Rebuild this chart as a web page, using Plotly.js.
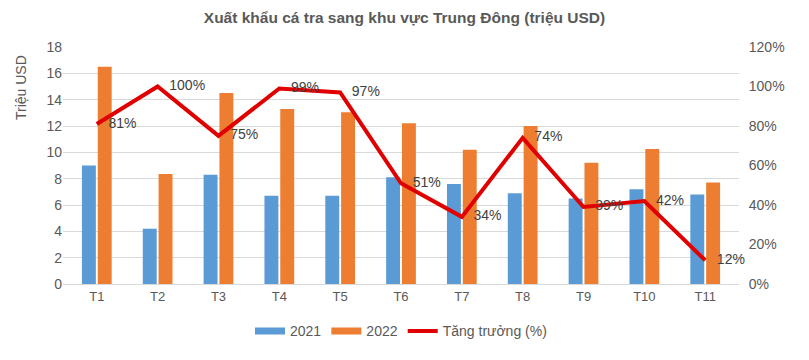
<!DOCTYPE html>
<html><head><meta charset="utf-8">
<script src="https://cdn.plot.ly/plotly-3.0.1.min.js"></script>
<style>html,body{margin:0;padding:0;background:#fff;}#c{width:809px;height:360px;}</style>
</head><body><div id="c"></div>
<script>
const categories = ["T1","T2","T3","T4","T5","T6","T7","T8","T9","T10","T11"];
const v2021 = [9.0, 4.2, 8.3, 6.7, 6.7, 8.1, 7.6, 6.9, 6.5, 7.2, 6.8];
const v2022 = [16.5, 8.35, 14.5, 13.3, 13.05, 12.2, 10.2, 12.0, 9.2, 10.25, 7.7];
const growth = [0.81, 1.00, 0.75, 0.99, 0.97, 0.51, 0.34, 0.74, 0.39, 0.42, 0.12];
const growthLabels = growth.map(g => "\u00a0\u00a0\u00a0" + Math.round(g*100) + "%");

const txt = "#595959";
const font = {family: "Liberation Sans, Arial, sans-serif", size: 13, color: txt};
const blue = "#5b9bd5", orange = "#ed7d31", red = "#e00000";

const data = [
  {type: "bar", name: "2021", x: categories, y: v2021, marker: {color: blue}, showlegend: false},
  {type: "bar", name: "2022", x: categories, y: v2022, marker: {color: orange}, showlegend: false},
  {type: "scatter", mode: "lines+text", name: "Tăng trưởng (%)", x: categories, y: growth, yaxis: "y2",
   line: {color: red, width: 4}, text: growthLabels, textposition: "middle right",
   textfont: {family: font.family, size: 14, color: "#404040"}, cliponaxis: false, showlegend: false},
  // legend entries
  {type: "scatter", mode: "lines", name: "2021", x: [null], y: [null], line: {color: blue, width: 7}},
  {type: "scatter", mode: "lines", name: "2022", x: [null], y: [null], line: {color: orange, width: 7}},
  {type: "scatter", mode: "lines", name: "Tăng trưởng (%)", x: [null], y: [null], line: {color: red, width: 4}}
];

const layout = {
  width: 809, height: 360,
  margin: {l: 63, r: 70, t: 47, b: 76},
  paper_bgcolor: "#fff", plot_bgcolor: "#fff",
  font: font,
  title: {text: "<b>Xuất khẩu cá tra sang khu vực Trung Đông (triệu USD)</b>", x: 0.5, xanchor: "center", y: 0.95, yanchor: "middle",
          font: {family: font.family, size: 15.5, color: txt}},
  barmode: "group", bargap: 0.48, bargroupgap: 0.12,
  showlegend: true,
  legend: {orientation: "h", x: 0.5, xanchor: "center", y: -0.2, yanchor: "middle", itemwidth: 30,
           font: {family: font.family, size: 14, color: txt}, traceorder: "normal"},
  xaxis: {showgrid: false, showline: true, linecolor: "#d9d9d9", linewidth: 1, ticks: "", tickfont: {size: 13, color: txt}},
  yaxis: {range: [0, 18], dtick: 2, showgrid: true, gridcolor: "#d9d9d9", zeroline: false, ticks: "", ticklen: 0,
          tickfont: {size: 14, color: txt}, automargin: false},
  yaxis2: {range: [0, 1.2], dtick: 0.2, tickformat: ".0%", overlaying: "y", side: "right", showgrid: false, zeroline: false,
           tickfont: {size: 14, color: txt}, ticks: "outside", ticklen: 6, tickcolor: "rgba(0,0,0,0)"},
  annotations: [
    {text: "Triệu USD", textangle: -90, xref: "paper", yref: "paper", x: -0.061, y: 0.83, xanchor: "center", yanchor: "middle",
     showarrow: false, font: {family: font.family, size: 14, color: txt}}
  ]
};
Plotly.newPlot("c", data, layout, {displayModeBar: false, staticPlot: true});
</script></body></html>
